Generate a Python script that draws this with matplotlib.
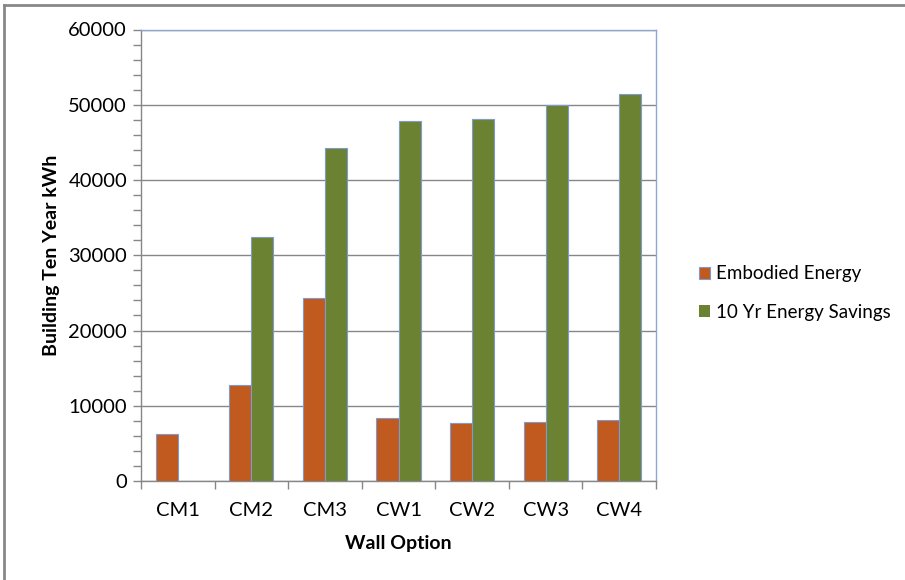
import numpy as np
import matplotlib.pyplot as plt
from matplotlib.lines import Line2D
from matplotlib.ticker import MultipleLocator

plt.rcParams['font.family'] = ['Lato', 'DejaVu Sans']

# datos
opciones = ['CM1', 'CM2', 'CM3', 'CW1', 'CW2', 'CW3', 'CW4']
embodied = [6300, 12700, 24300, 8400, 7700, 7800, 8100]
ahorro_10 = [0, 32400, 44200, 47900, 48050, 50000, 51400]

W, H = 905, 580
fig = plt.figure(figsize=(W/100, H/100), dpi=100)
ax = fig.add_axes([141/W, 1-481/H, (656-141)/W, (481-29.5)/H])

x = np.arange(len(opciones))
ancho = 0.3
borde = '#7f9ad0'
ax.bar(x - ancho/2, embodied, ancho, color='#c05a1e', edgecolor=borde, linewidth=0.8,
       label='Embodied Energy', zorder=3)
barras = ax.bar(x + ancho/2, ahorro_10, ancho, color='#6b8232', edgecolor=borde, linewidth=0.8,
                label='10 Yr Energy Savings', zorder=3)
for b, v in zip(barras, ahorro_10):
    if v == 0:
        b.set_linewidth(0)

ax.set_xlim(-0.5, len(opciones) - 0.5)
ax.set_ylim(0, 60000)
ax.yaxis.set_major_locator(MultipleLocator(10000))
ax.yaxis.set_minor_locator(MultipleLocator(2000))
ax.grid(axis='y', which='major', color='#878787', linewidth=1, zorder=0)

ax.set_xticks(x)
ax.set_xticklabels(opciones)
ax.set_xticks(np.arange(len(opciones) + 1) - 0.5, minor=True)
ax.tick_params(axis='x', which='major', length=0, pad=15, labelsize=14.5)
ax.tick_params(axis='x', which='minor', length=6, color='#878787', width=1)
ax.tick_params(axis='y', which='major', length=6, color='#878787', width=1, labelsize=14.5, pad=4)
ax.tick_params(axis='y', which='minor', length=6, color='#878787', width=1)

for s in ['left', 'bottom']:
    ax.spines[s].set_color('#878787')
for s in ['top', 'right']:
    ax.spines[s].set_color('#8ea5d6')
for s in ax.spines.values():
    s.set_linewidth(1)

ax.set_ylabel('Building Ten Year kWh', fontsize=14, fontweight='bold', labelpad=6)
ax.set_xlabel('Wall Option', fontsize=14, fontweight='bold', labelpad=12)

ax.legend(loc='center left', bbox_to_anchor=(682/W, 1-293/H), bbox_transform=fig.transFigure,
          frameon=False, fontsize=13.5, handlelength=0.6, handleheight=0.6, handletextpad=0.3,
          labelspacing=1.15)

# borde exterior (solo arriba e izquierda visibles)
fig.add_artist(Line2D([4/W, 4/W], [0, 1-5/H], color='#888888', linewidth=2))
fig.add_artist(Line2D([4/W, 1], [1-5/H, 1-5/H], color='#888888', linewidth=2))

fig.savefig('out.png', dpi=100)
